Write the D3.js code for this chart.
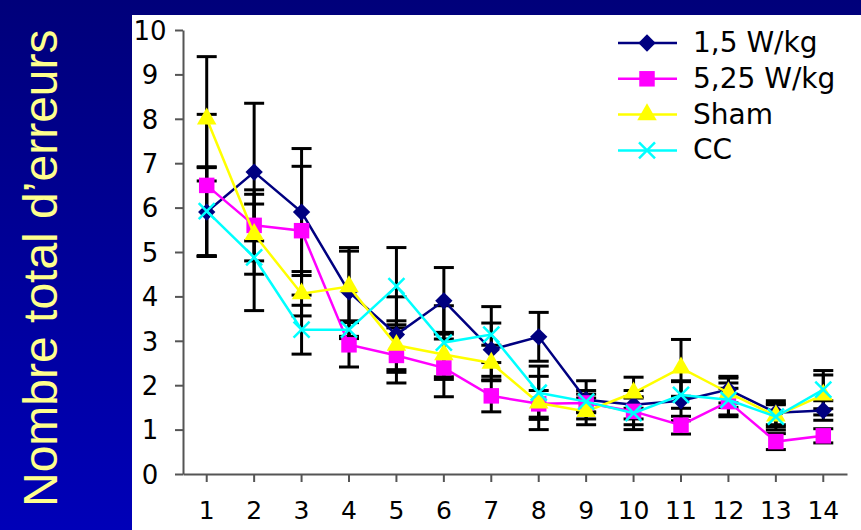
<!DOCTYPE html>
<html>
<head>
<meta charset="utf-8">
<script src="https://cdn.jsdelivr.net/npm/d3@7"></script>
<style>
  html, body { margin: 0; padding: 0; }
  body { width: 861px; height: 530px; overflow: hidden; }
</style>
</head>
<body>
<div id="chart"></div>
<script>
// data
var days = [1, 2, 3, 4, 5, 6, 7, 8, 9, 10, 11, 12, 13, 14];
var seriesNames = ["1,5 W/kg", "5,25 W/kg", "Sham", "CC"];
var w15 = [5.9, 6.8, 5.9, 4.1, 3.14, 3.9, 2.8, 3.09, 1.67, 1.56, 1.65, 1.9, 1.38, 1.43];
var w525 = [6.5, 5.6, 5.48, 2.91, 2.67, 2.39, 1.76, 1.58, 1.6, 1.41, 1.1, 1.63, 0.73, 0.86];
var sham = [8.0, 5.4, 4.06, 4.22, 2.9, 2.69, 2.5, 1.6, 1.41, 1.83, 2.39, 1.83, 1.31, 1.78];
var cc = [5.92, 4.88, 3.25, 3.25, 4.23, 2.96, 3.14, 1.83, 1.63, 1.37, 1.78, 1.67, 1.29, 1.9];
// error bars (SEM)
var errW15 = [1.0, 1.55, 1.43, 1.0, 0.85, 0.75, 0.6, 0.55, 0.43, 0.32, 0.45, 0.3, 0.27, 0.22];
var errW525 = [1.6, 0.8, 1.45, 0.5, 0.62, 0.65, 0.36, 0.3, 0.2, 0.3, 0.2, 0.3, 0.18, 0.16];
var errSham = [1.4, 0.9, 0.5, 0.8, 0.55, 0.5, 0.4, 0.6, 0.3, 0.35, 0.64, 0.33, 0.25, 0.45];
var errCC = [1.0, 1.2, 0.55, 0.2, 0.87, 0.83, 0.63, 0.6, 0.25, 0.37, 0.3, 0.38, 0.3, 0.43];
var yTicks = [0, 1, 2, 3, 4, 5, 6, 7, 8, 9, 10];

var W = 861, H = 530;
var colors = ["#000080", "#ff00ff", "#ffff00", "#00ffff"];
var values = [w15, w525, sham, cc];
var errors = [errW15, errW525, errSham, errCC];

var svg = d3.select("#chart").append("svg")
    .attr("width", W).attr("height", H);

// blue slide background
var grad = svg.append("defs").append("linearGradient")
    .attr("id", "bg").attr("x1", 0).attr("y1", 0).attr("x2", 0).attr("y2", 1);
grad.append("stop").attr("offset", "0%").attr("stop-color", "#00007a");
grad.append("stop").attr("offset", "100%").attr("stop-color", "#0000b8");
svg.append("rect").attr("width", W).attr("height", H).attr("fill", "url(#bg)");
svg.append("rect").attr("x", 132).attr("y", 15)
    .attr("width", W - 132).attr("height", H - 15).attr("fill", "#fff");

// y title
svg.append("text")
    .attr("transform", "translate(57,507) rotate(-90)")
    .attr("font-family", "Liberation Sans, Arial, sans-serif")
    .attr("font-size", 48)
    .attr("fill", "#ffff8c")
    .text("Nombre total d\u2019erreurs");

var x = d3.scaleBand().domain(days).range([183, 847]).paddingInner(0).paddingOuter(0);
var y = d3.scaleLinear().domain([0, 10]).range([474, 30]);
var cx = function (d) { return x(d) + x.bandwidth() / 2; };

// axes
var yAxis = svg.append("g")
    .attr("transform", "translate(183,0)")
    .call(d3.axisLeft(y).tickValues(yTicks).tickSize(8).tickSizeOuter(0).tickFormat(d3.format("d")));
yAxis.selectAll("text")
    .attr("font-family", "DejaVu Sans, Verdana, sans-serif")
    .attr("font-size", 26).attr("fill", "#000")
    .attr("text-anchor", "middle").attr("x", -33).attr("dy", "0.36em");

var xAxis = svg.append("g")
    .attr("transform", "translate(0,474)")
    .call(d3.axisBottom(x).tickSize(8).tickSizeOuter(0));
xAxis.selectAll("text")
    .attr("font-family", "DejaVu Sans, Verdana, sans-serif")
    .attr("font-size", 25).attr("fill", "#000").attr("y", 27).attr("dy", "0.71em");
svg.selectAll(".domain, .tick line").attr("stroke", "#555").attr("stroke-width", 2);

// error bars first, markers on top
var bars = svg.append("g").attr("stroke", "#000").attr("stroke-width", 3);
values.forEach(function (vals, s) {
    vals.forEach(function (v, i) {
        var e = errors[s][i], px = cx(days[i]);
        var top = y(v + e), bot = y(v - e);
        bars.append("line").attr("x1", px).attr("x2", px).attr("y1", top).attr("y2", bot);
        bars.append("line").attr("x1", px - 10).attr("x2", px + 10).attr("y1", top).attr("y2", top);
        bars.append("line").attr("x1", px - 10).attr("x2", px + 10).attr("y1", bot).attr("y2", bot);
    });
});

function markerPath(s) {
    if (s === 0) return d3.symbol().type(d3.symbolSquare).size(150)();
    if (s === 1) return d3.symbol().type(d3.symbolSquare).size(240)();
    if (s === 2) return d3.symbol().type(d3.symbolTriangle).size(165)();
    return "M-8,-8L8,8M-8,8L8,-8";
}

function drawMarker(g, s, px, py) {
    var p = g.append("path").attr("d", markerPath(s))
        .attr("transform", "translate(" + px + "," + py + ")" + (s === 0 ? " rotate(45)" : ""));
    if (s === 3) p.attr("fill", "none").attr("stroke", colors[s]).attr("stroke-width", 2.5);
    else p.attr("fill", colors[s]);
}

var line = d3.line().x(function (d, i) { return cx(days[i]); }).y(function (d) { return y(d); });

values.forEach(function (vals, s) {
    var g = svg.append("g");
    g.append("path").datum(vals).attr("d", line)
        .attr("fill", "none").attr("stroke", colors[s]).attr("stroke-width", 2.5);
    vals.forEach(function (v, i) { drawMarker(g, s, cx(days[i]), y(v)); });
});

// legend
var legend = svg.append("g");
seriesNames.forEach(function (name, s) {
    var ly = 43 + s * 35.8;
    legend.append("line").attr("x1", 618).attr("x2", 677).attr("y1", ly).attr("y2", ly)
        .attr("stroke", colors[s]).attr("stroke-width", 2.5);
    drawMarker(legend, s, 647, ly);
    legend.append("text").attr("x", 693).attr("y", ly + 9)
        .attr("font-family", "DejaVu Sans, Verdana, sans-serif")
        .attr("font-size", 28).attr("fill", "#000").text(name);
});
</script>
</body>
</html>
